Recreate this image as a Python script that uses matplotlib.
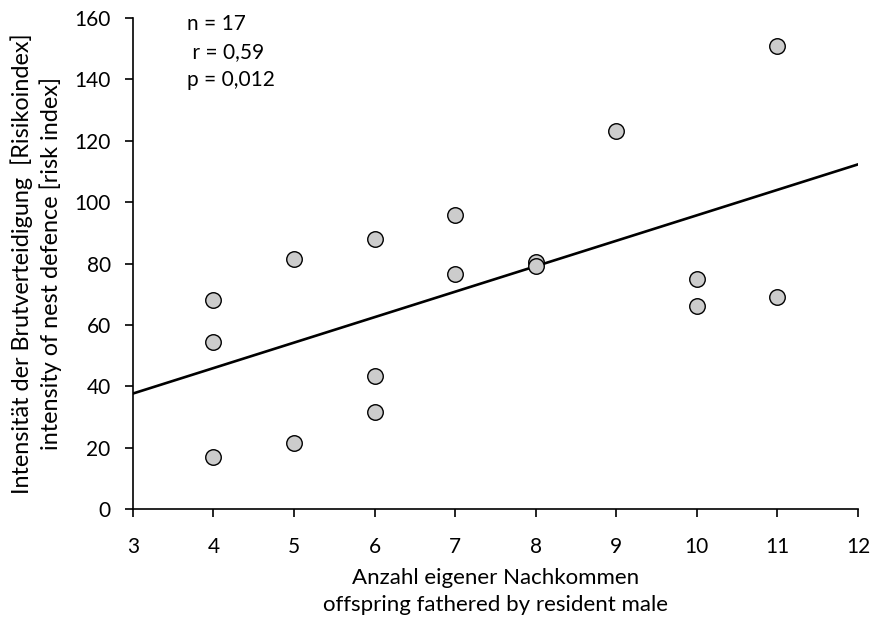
import matplotlib
matplotlib.use("Agg")
import matplotlib.pyplot as plt
import numpy as np

# data
offspring = [4, 4, 4, 5, 5, 6, 6, 6, 7, 7, 8, 8, 9, 10, 10, 11, 11]
risk = [68.1, 54.4, 16.9, 81.4, 21.5, 87.9, 43.3, 31.6, 95.8, 76.5,
        80.4, 79.2, 123.1, 74.9, 66.1, 150.8, 69.0]
stats_lines = ["n = 17", " r = 0,59", "p = 0,012"]
xlabel = "Anzahl eigener Nachkommen\noffspring fathered by resident male"
ylabel = "Intensität der Brutverteidigung  [Risikoindex]\nintensity of nest defence [risk index]"

plt.rcParams['font.family'] = ['Lato', 'DejaVu Sans']

fig = plt.figure(figsize=(8.8, 6.18), dpi=100)
ax = fig.add_axes([0.151, 0.176, 0.824, 0.795])

# regression line over full x range
slope, icpt = np.polyfit(offspring, risk, 1)
xs = np.array([3, 12])
ax.plot(xs, icpt + slope * xs, color='black', lw=1.9, zorder=2)

ax.scatter(offspring, risk, s=125, facecolor='#cccccc', edgecolor='black',
           linewidth=1.0, zorder=3)

ax.set_xlim(3, 12)
ax.set_ylim(0, 160)
ax.set_xticks(range(3, 13))
ax.set_yticks(range(0, 161, 20))
ax.spines['top'].set_visible(False)
ax.spines['right'].set_visible(False)
ax.spines['left'].set_linewidth(1.2)
ax.spines['bottom'].set_linewidth(1.2)
ax.tick_params(direction='out', length=6, width=1.2, labelsize=15)
ax.tick_params(axis='x', pad=14)
ax.tick_params(axis='y', pad=10)

ax.set_xlabel(xlabel, fontsize=16, linespacing=1.45, labelpad=8)
ax.set_ylabel(ylabel, fontsize=16.8, linespacing=1.35, labelpad=9)

for i, s in enumerate(stats_lines):
    ax.text(0.075, 1.008 - i * 0.057, s, transform=ax.transAxes,
            fontsize=15, va='top', ha='left')

fig.savefig("out.png", dpi=100)
